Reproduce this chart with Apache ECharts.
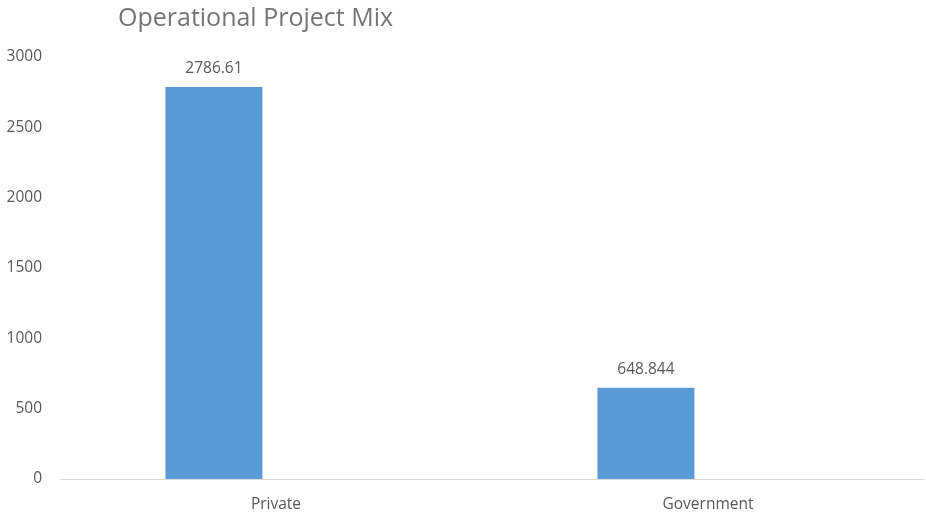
<!DOCTYPE html>
<html>
<head>
<meta charset="utf-8">
<script src="https://cdn.jsdelivr.net/npm/echarts@6/dist/echarts.min.js"></script>
<style>html,body{margin:0;padding:0;background:#fff}#c{width:926px;height:513px}</style>
</head>
<body>
<div id="c"></div>
<script>
const categories = ["Private", "Government"];
const values = [2786.61, 648.844];
const emptySeries = [null, null];
const yTicks = { min: 0, max: 3000, interval: 500 };

const chart = echarts.init(document.getElementById('c'), null, { renderer: 'canvas' });
const font = '"Open Sans", "Liberation Sans", sans-serif';
chart.setOption({
  animation: false,
  backgroundColor: '#ffffff',
  title: {
    text: 'Operational Project Mix',
    left: 113, top: 1,
    textStyle: { fontFamily: font, fontSize: 25, fontWeight: 'normal', color: '#757575' }
  },
  grid: { left: 60, right: 2, top: 57, bottom: 34, containLabel: false },
  xAxis: {
    type: 'category',
    data: categories,
    axisLine: { lineStyle: { color: '#d9d9d9', width: 1 } },
    axisTick: { show: false },
    axisLabel: { fontFamily: font, fontSize: 15.5, color: '#595959', margin: 18 }
  },
  yAxis: {
    type: 'value',
    min: yTicks.min, max: yTicks.max, interval: yTicks.interval,
    splitLine: { show: false },
    axisLine: { show: false },
    axisTick: { show: false },
    axisLabel: { fontFamily: font, fontSize: 15.5, color: '#595959', margin: 18, padding: [4, 0, 0, 0], formatter: v => String(v) }
  },
  series: [
    {
      type: 'bar',
      data: values,
      barWidth: 97,
      barGap: '28%',
      itemStyle: { color: '#5b9bd5' },
      label: {
        show: true, position: 'top', distance: 10,
        fontFamily: font, fontSize: 15.5, color: '#595959',
        formatter: p => String(p.value)
      }
    },
    {
      type: 'bar',
      data: emptySeries,
      barWidth: 97,
      itemStyle: { color: '#ed7d31' }
    }
  ]
});
</script>
</body>
</html>
